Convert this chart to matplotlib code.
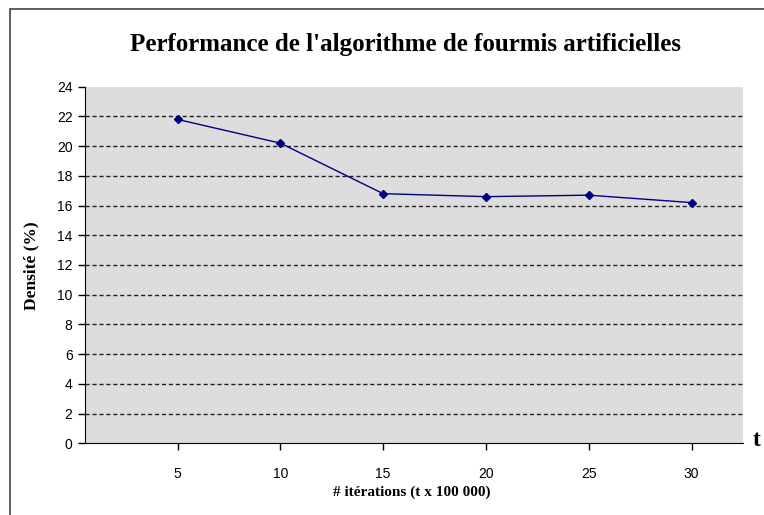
import matplotlib.pyplot as plt
from matplotlib.patches import Rectangle

# donnees
iterations = [5, 10, 15, 20, 25, 30]
densite = [21.8, 20.2, 16.8, 16.6, 16.7, 16.2]
yticks = list(range(0, 25, 2))

serif = ['Liberation Serif', 'DejaVu Serif']
sans = ['Liberation Sans', 'DejaVu Sans']

fig = plt.figure(figsize=(7.64, 5.15), dpi=100)
ax = fig.add_axes([85/764, 1-443.3/515, (743-85)/764, (443.3-86.7)/515])
ax.set_facecolor('#dddddd')

# grille pointillee
for v in yticks[1:-1]:
    ax.axhline(v, color='#222222', lw=1, ls=(0, (3, 2)), zorder=1)

ax.plot(iterations, densite, color='#000080', lw=1, marker='D', ms=4.5,
        zorder=3)

ax.set_xlim(0.5, 32.5)
ax.set_ylim(0, 24)
ax.set_xticks(iterations)
ax.set_yticks(yticks)
for s in ['top', 'right']:
    ax.spines[s].set_visible(False)
ax.tick_params(direction='out', length=5, width=1, pad=4, labelsize=10)
for lab in ax.get_xticklabels() + ax.get_yticklabels():
    lab.set_family(sans)
ax.tick_params(axis='x', pad=12)

fig.text(406/764, 1-44/515, "Performance de l'algorithme de fourmis artificielles",
         ha='center', va='center', family=serif, weight='bold', fontsize=18)
fig.text(31/764, 1-266/515, 'Densité (%)', rotation=90, ha='center', va='center',
         family=serif, weight='bold', fontsize=12.5)
fig.text(412/764, 1-492/515, '# itérations (t x 100 000)', ha='center', va='center',
         family=serif, weight='bold', fontsize=11)
fig.text(757/764, 1-440/515, 't', ha='center', va='center',
         family=serif, weight='bold', fontsize=17)

# cadre exterieur
fig.patches.append(Rectangle((10/764, -0.05), 1.1, 1-9/515+0.05,
                             transform=fig.transFigure, fill=False,
                             edgecolor='#444444', lw=1.2))

fig.savefig('out.png', dpi=100)
